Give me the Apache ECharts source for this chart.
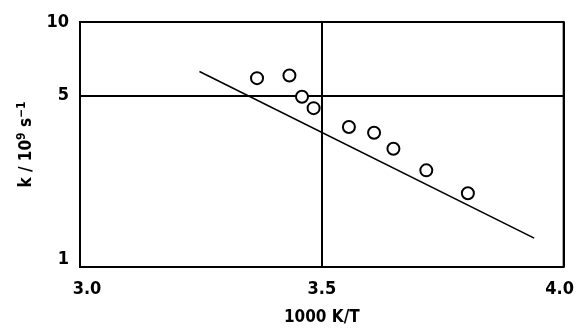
<!DOCTYPE html>
<html>
<head>
<meta charset="utf-8">
<script src="https://cdn.jsdelivr.net/npm/echarts@6/dist/echarts.min.js"></script>
<style>
  html, body { margin: 0; padding: 0; background: #fff; }
  #chart { width: 577px; height: 331px; }
</style>
</head>
<body>
<div id="chart"></div>
<script>
// Measured rate constants versus inverse temperature
const invT = [3.366, 3.433, 3.459, 3.483, 3.556, 3.608, 3.648, 3.716, 3.802];
const rateK = [5.90, 6.05, 4.95, 4.45, 3.73, 3.53, 3.04, 2.48, 2.00];

// Arrhenius fit line end points
const fitX = [3.247, 3.939];
const fitY = [6.28, 1.312];

// Axis ticks
const xTicks = [3.0, 3.5, 4.0];
const yTicks = [1, 5, 10];

const FONT = '"DejaVu Sans Condensed", "DejaVu Sans", sans-serif';
const FS = 18;

const chart = echarts.init(document.getElementById('chart'), null, { renderer: 'canvas' });

const txt = { fontFamily: FONT, fontSize: FS, fontWeight: 'bold', color: '#000' };

chart.setOption({
  animation: false,
  backgroundColor: '#fff',
  grid: {
    left: 80, right: 8, top: 22, bottom: 57,
    show: true, borderColor: '#000', borderWidth: 2
  },
  xAxis: {
    type: 'value',
    min: xTicks[0], max: xTicks[xTicks.length - 1], interval: 0.5,
    name: '1000 K/T',
    nameLocation: 'middle', nameGap: 42,
    nameTextStyle: Object.assign({}, txt, { fontSize: 17 }),
    axisLine: { show: false },
    axisTick: { show: false },
    splitLine: { show: true, lineStyle: { color: '#000', width: 2 } },
    axisLabel: Object.assign({
      margin: 13,
      formatter: v => {
        const s = v.toFixed(1);
        if (v === xTicks[0]) return '{lo|' + s + '}';
        if (v === xTicks[xTicks.length - 1]) return '{hi|' + s + '}';
        return s;
      },
      rich: {
        lo: Object.assign({ padding: [0, 0, 0, 14] }, txt),
        hi: Object.assign({ padding: [0, 8, 0, 0] }, txt)
      }
    }, txt)
  },
  yAxis: {
    type: 'log', logBase: 10,
    min: yTicks[0], max: yTicks[yTicks.length - 1],
    interval: Math.log10(yTicks[1]),
    name: 'k / 10{sup|9} s{sup|\u22121}',
    nameLocation: 'middle', nameGap: 42, nameRotate: 90,
    nameTextStyle: Object.assign({}, txt, {
      fontSize: 17,
      rich: {
        sup: { fontFamily: FONT, fontSize: 12, fontWeight: 'bold', color: '#000', padding: [0, 0, 10, 0] }
      }
    }),
    axisLine: { show: false },
    axisTick: { show: false },
    splitLine: { show: true, lineStyle: { color: '#000', width: 2 } },
    axisLabel: Object.assign({
      margin: 11,
      formatter: v => {
        const n = Math.round(v);
        if (n === yTicks[0]) return '{lo|' + n + '}';
        return String(n);
      },
      rich: {
        lo: Object.assign({ padding: [0, 0, 16, 0] }, txt)
      }
    }, txt)
  },
  series: [
    {
      type: 'line',
      data: fitX.map((x, i) => [x, fitY[i]]),
      showSymbol: false,
      lineStyle: { color: '#000', width: 1.6 },
      z: 2
    },
    {
      type: 'scatter',
      data: invT.map((x, i) => [x, rateK[i]]),
      symbol: 'emptyCircle',
      symbolSize: 12,
      itemStyle: { color: '#000', borderColor: '#000', borderWidth: 2, opacity: 1 },
      z: 3
    }
  ]
});
</script>
</body>
</html>
